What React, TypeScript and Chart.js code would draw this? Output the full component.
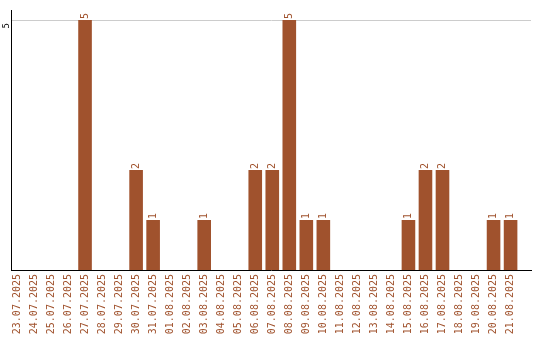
import React, { useEffect, useRef } from "react";
import { Chart, registerables } from "chart.js";

Chart.register(...registerables);

const categories = [
  "23.07.2025", "24.07.2025", "25.07.2025", "26.07.2025", "27.07.2025", "28.07.2025",
  "29.07.2025", "30.07.2025", "31.07.2025", "01.08.2025", "02.08.2025", "03.08.2025",
  "04.08.2025", "05.08.2025", "06.08.2025", "07.08.2025", "08.08.2025", "09.08.2025",
  "10.08.2025", "11.08.2025", "12.08.2025", "13.08.2025", "14.08.2025", "15.08.2025",
  "16.08.2025", "17.08.2025", "18.08.2025", "19.08.2025", "20.08.2025", "21.08.2025",
];
const values = [0, 0, 0, 0, 5, 0, 0, 2, 1, 0, 0, 1, 0, 0, 2, 2, 5, 1, 1, 0, 0, 0, 0, 1, 2, 2, 0, 0, 1, 1];
const yTicks = [5];

const BAR = "#A0522D";
const FONT = "DejaVu Sans Mono";

const labelPlugin = {
  id: "barLabels",
  afterDatasetsDraw(chart: any) {
    const ctx = chart.ctx;
    const meta = chart.getDatasetMeta(0);
    ctx.save();
    ctx.fillStyle = BAR;
    ctx.font = `10px "${FONT}"`;
    ctx.textAlign = "left";
    ctx.textBaseline = "middle";
    meta.data.forEach((el: any, i: number) => {
      const v = values[i];
      if (!v) return;
      ctx.save();
      ctx.translate(el.x, el.y - 1);
      ctx.rotate(-Math.PI / 2);
      ctx.fillText(String(v), 0, 0);
      ctx.restore();
    });
    ctx.restore();
  },
};

export default function App() {
  const ref = useRef<HTMLCanvasElement>(null);
  useEffect(() => {
    if (!ref.current) return;
    const points = values.map((v, i) => ({ x: i, y: v }));
    const chart = new Chart(ref.current, {
      type: "bar",
      data: {
        datasets: [
          {
            data: points,
            backgroundColor: BAR,
            barPercentage: 0.8,
            categoryPercentage: 1,
          },
        ],
      },
      options: {
        animation: false,
        responsive: false,
        maintainAspectRatio: false,
        layout: { padding: { top: 10, right: 9, bottom: 0, left: 0 } },
        plugins: { legend: { display: false }, tooltip: { enabled: false } },
        scales: {
          x: {
            type: "linear",
            min: -0.35,
            max: categories.length + 0.2,
            offset: false,
            afterFit: (scale: any) => {
              scale.height = 70;
            },
            afterBuildTicks: (scale: any) => {
              scale.ticks = categories.map((_, i) => ({ value: i }));
            },
            grid: { display: false, drawTicks: false },
            border: { color: "#000", width: 1 },
            ticks: {
              color: BAR,
              font: { family: FONT, size: 10 },
              minRotation: 90,
              maxRotation: 90,
              autoSkip: false,
              padding: 4,
              callback: (v: any) => categories[v] ?? "",
            },
          },
          y: {
            min: 0,
            max: 5.2,
            afterFit: (scale: any) => {
              scale.width = 11;
            },
            afterBuildTicks: (scale: any) => {
              scale.ticks = yTicks.map((v) => ({ value: v }));
            },
            grid: { color: "#cccccc", drawTicks: false, lineWidth: 1 },
            border: { color: "#000", width: 1 },
            ticks: {
              color: "#000",
              font: { family: FONT, size: 9 },
              minRotation: 90,
              maxRotation: 90,
              padding: 4,
              labelOffset: 3,
            },
          },
        },
      },
      plugins: [labelPlugin],
    });
    return () => chart.destroy();
  }, []);
  return (
    <div style={{ position: "fixed", left: 0, top: 0, width: 540, height: 340, background: "#fff" }}>
      <canvas ref={ref} width={540} height={340} style={{ width: 540, height: 340 }} />
    </div>
  );
}
